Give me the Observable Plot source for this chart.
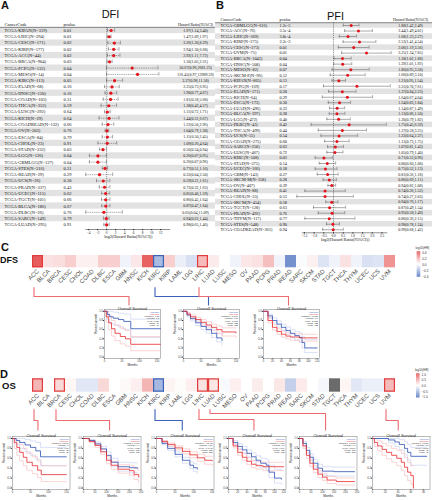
<!DOCTYPE html>
<html><head><meta charset="utf-8">
<script src="https://cdn.jsdelivr.net/npm/d3@7"></script>
<script src="https://cdn.jsdelivr.net/npm/@observablehq/plot@0.6"></script>
<style>
body{margin:0;background:#fff;}
#root{position:relative;width:432px;height:500px;overflow:hidden;font-family:"Liberation Sans",Arial,sans-serif;}
</style></head><body><div id="root"></div>
<script>
// ---------------- DATA ----------------
const dfiCodes = ["TCGA-KIPAN(N=319)","TCGA-LIHC(N=294)","TCGA-CESC(N=171)","TCGA-KIRP(N=177)","TCGA-ACC(N=44)","TCGA-BRCA(N=904)","TCGA-PCPG(N=132)","TCGA-MESO(N=14)","TCGA-KIRC(N=113)","TCGA-PAAD(N=68)","TCGA-HNSC(N=120)","TCGA-COAD(N=103)","TCGA-THCA(N=352)","TCGA-LUSC(N=292)","TCGA-KICH(N=29)","TCGA-COADREAD(N=132)","TCGA-OV(N=203)","TCGA-ESCA(N=84)","TCGA-CHOL(N=23)","TCGA-STAD(N=232)","TCGA-LGG(N=126)","TCGA-GBMLGG(N=127)","TCGA-STES(N=316)","TCGA-READ(N=29)","TCGA-UCS(N=26)","TCGA-PRAD(N=337)","TCGA-UCEC(N=115)","TCGA-TGCT(N=101)","TCGA-BLCA(N=186)","TCGA-DLBC(N=26)","TCGA-SARC(N=149)","TCGA-LUAD(N=295)"];
const dfiP = ["0.01","0.01","0.02","0.02","0.02","0.03","0.04","0.04","0.05","0.16","0.16","0.31","0.59","0.64","0.64","0.66","0.76","0.79","0.91","0.03","0.04","0.04","0.21","0.29","0.30","0.43","0.62","0.66","0.67","0.76","0.79","0.91"];
const dfiHR = [1.97,1.47,3.26,2.94,2.92,1.56,50.67,116.45,3.37,2.25,1.90,1.81,1.38,1.11,1.44,1.22,1.04,1.11,1.09,0.56,0.26,0.26,0.77,0.33,0.59,0.72,0.85,0.86,0.87,0.65,0.94,0.98];
const dfiLo = [1.14,1.09,1.20,1.30,1.11,1.05,0.96,0.97,0.98,0.73,0.77,0.58,0.42,0.72,0.31,0.50,0.79,0.50,0.26,0.34,0.07,0.07,0.51,0.04,0.21,0.32,0.46,0.45,0.47,0.04,0.62,0.65];
const dfiHi = [3.40,1.97,8.29,6.68,7.72,2.31,2681.23,13989.59,11.58,6.95,4.67,5.68,4.57,1.71,6.67,2.96,1.38,2.45,4.64,0.94,0.95,0.96,1.16,2.50,1.61,1.63,1.59,1.64,1.64,11.09,1.44,1.46];

const pfiCodes = ["TCGA-GBMLGG(N=616)","TCGA-ACC(N=76)","TCGA-LIHC(N=369)","TCGA-KIRP(N=275)","TCGA-CESC(N=273)","TCGA-UVM(N=75)","TCGA-BRCA(N=1043)","TCGA-HNSC(N=508)","TCGA-MESO(N=82)","TCGA-SKCM-P(N=96)","TCGA-KIPAN(N=865)","TCGA-PCPG(N=169)","TCGA-PAAD(N=171)","TCGA-KICH(N=64)","TCGA-ESCA(N=173)","TCGA-LUAD(N=496)","TCGA-BLCA(N=397)","TCGA-LGG(N=472)","TCGA-DLBC(N=43)","TCGA-THCA(N=499)","TCGA-UCS(N=55)","TCGA-COAD(N=275)","TCGA-SARC(N=250)","TCGA-LUSC(N=467)","TCGA-KIRC(N=508)","TCGA-STAD(N=375)","TCGA-UCEC(N=166)","TCGA-GBM(N=143)","TCGA-SKCM-M(N=358)","TCGA-OV(N=407)","TCGA-READ(N=88)","TCGA-CHOL(N=33)","TCGA-SKCM(N=454)","TCGA-TGCT(N=128)","TCGA-PRAD(N=492)","TCGA-THYM(N=117)","TCGA-STES(N=548)","TCGA-COADREAD(N=363)"];
const pfiP = ["1.2e-5","3.5e-4","3.8e-4","2.2e-3","0.01","0.01","0.04","0.04","0.07","0.12","0.13","0.17","0.20","0.29","0.30","0.33","0.38","0.40","0.42","0.44","0.54","0.60","0.63","0.72","0.03","0.14","0.18","0.27","0.28","0.39","0.41","0.53","0.58","0.63","0.76","0.77","0.90","0.94"];
const pfiHR = [1.88,2.44,1.68,2.53,2.06,3.25,1.38,1.39,1.86,1.66,1.21,2.31,1.37,1.64,1.24,1.14,1.13,1.20,1.75,1.37,1.22,1.13,1.07,1.05,0.71,0.80,0.75,0.81,0.86,0.94,0.74,0.74,0.94,0.87,0.95,0.86,0.98,0.99];
const pfiLo = [1.42,1.49,1.23,1.41,1.19,1.34,1.02,1.01,0.95,0.89,0.95,0.70,0.84,0.67,0.83,0.87,0.86,0.79,0.45,0.58,0.64,0.73,0.81,0.79,0.52,0.60,0.52,0.56,0.69,0.82,0.36,0.27,0.76,0.49,0.58,0.36,0.78,0.68];
const pfiHi = [2.49,4.01,2.27,4.54,3.56,7.85,1.88,1.92,3.58,3.10,1.54,7.61,2.23,4.04,1.84,1.49,1.50,1.82,6.59,3.25,2.37,1.75,1.43,1.40,0.96,1.08,1.13,1.18,1.11,1.08,1.52,2.03,1.17,1.54,1.49,2.15,1.24,1.42];

const cancers = ["ACC","BLCA","BRCA","CESC","CHOL","COAD","DLBC","ESCA","GBM","HNSC","KICH","KIRC","KIRP","LAML","LGG","LIHC","LUAD","LUSC","MESO","OV","PAAD","PCPG","PRAD","READ","SARC","SKCM","STAD","TGCT","THCA","THYM","UCEC","UCS","UVM"];
const dfsLogHR = [0.33,0.06,0.07,0.10,0.03,0.03,0.10,0.10,-0.03,0.05,0.32,-0.17,0.10,-0.04,-0.08,0.14,0.04,0.00,-0.03,0.05,0.06,0.13,-0.03,-0.28,-0.01,0.03,-0.07,-0.03,0.06,-0.03,-0.08,-0.07,0.22];
const osLogHR = [0.38,0.01,0.2,0.05,-0.15,-0.15,0.2,0.0,0.03,0.08,0.38,-0.45,0.06,0.02,0.08,0.15,0.12,-0.04,0.08,0.0,0.09,0.0,0.12,-0.3,0.11,0.0,-0.05,null,0.05,-0.15,-0.1,-0.1,0.35];
const dfsUp = ["ACC","LIHC"], dfsDown = ["KIRC"];
const osUp = ["ACC","BRCA","LIHC","LUAD","UVM"], osDown = ["KIRC"];
const dfsLegendTicks = [-0.4,-0.2,0,0.2,0.4];
const osLegendTicks = [-1,-0.5,0,0.5,1];

// Kaplan-Meier curves (months t, survival s, CI lo/hi)
const kmDFS = [
 {cancer:"ACC", xDomain:[0,160], xTicks:[0,50,100,150], stats:["Logrank p=0.02","HR(high)=3.3","p(HR)=0.026","n(high)=37","n(low)=37"],
  low:{t:[0,8,15,25,40,55,75,160], s:[1,0.93,0.88,0.85,0.82,0.78,0.62,0.62], lo:[1,0.82,0.74,0.70,0.66,0.60,0.43,0.43], hi:[1,1,1,0.98,0.96,0.94,0.83,0.83]},
  high:{t:[0,5,12,20,30,45,60,75,160], s:[1,0.88,0.75,0.62,0.52,0.45,0.40,0.28,0.28], lo:[1,0.76,0.60,0.46,0.36,0.29,0.24,0.14,0.14], hi:[1,1,0.90,0.80,0.70,0.63,0.58,0.45,0.45]}},
 {cancer:"KIRC", xDomain:[0,160], xTicks:[0,50,100,150], stats:["Logrank p=0.0034","HR(high)=0.65","p(HR)=0.0037","n(high)=258","n(low)=258"],
  low:{t:[0,10,20,35,50,65,80,95,110], s:[1,0.92,0.84,0.75,0.67,0.60,0.52,0.42,0.36], lo:[1,0.88,0.79,0.69,0.60,0.52,0.43,0.33,0.26], hi:[1,0.96,0.89,0.81,0.74,0.68,0.61,0.52,0.47]},
  high:{t:[0,10,20,35,50,65,80,95,110,150], s:[1,0.94,0.88,0.82,0.76,0.70,0.65,0.60,0.55,0.53], lo:[1,0.91,0.84,0.77,0.70,0.64,0.58,0.52,0.46,0.43], hi:[1,0.97,0.92,0.87,0.82,0.77,0.72,0.68,0.64,0.63]}},
 {cancer:"LIHC", xDomain:[0,125], xTicks:[0,20,40,60,80,100,120], stats:["Logrank p=0.0021","HR(high)=1.6","p(HR)=0.0023","n(high)=182","n(low)=182"],
  low:{t:[0,10,20,30,40,50,60,70,80,86,92,120], s:[1,0.90,0.80,0.72,0.65,0.58,0.52,0.47,0.43,0.32,0.20,0.20], lo:[1,0.86,0.75,0.66,0.58,0.50,0.43,0.37,0.32,0.20,0.10,0.10], hi:[1,0.94,0.86,0.79,0.72,0.66,0.60,0.56,0.53,0.44,0.38,0.38]},
  high:{t:[0,10,20,30,40,50,60,80,120], s:[1,0.80,0.65,0.56,0.50,0.46,0.44,0.42,0.42], lo:[1,0.75,0.59,0.50,0.44,0.40,0.37,0.35,0.35], hi:[1,0.85,0.71,0.62,0.57,0.53,0.51,0.50,0.50]}}
];
const kmOS = [
 {cancer:"ACC", xDomain:[0,160], xTicks:[0,50,100,150], stats:["Logrank p=0.0071","HR(high)=3","p(HR)=0.01","n(high)=38","n(low)=38"],
  low:{t:[0,10,20,35,50,65,78,150], s:[1,0.96,0.92,0.87,0.82,0.75,0.63,0.63], lo:[1,0.88,0.80,0.73,0.66,0.58,0.45,0.45], hi:[1,1,1,0.98,0.95,0.92,0.82,0.82]},
  high:{t:[0,5,12,20,30,40,55,70,80,150], s:[1,0.92,0.82,0.72,0.62,0.52,0.45,0.36,0.27,0.27], lo:[1,0.80,0.66,0.55,0.45,0.36,0.29,0.21,0.13,0.13], hi:[1,1,0.95,0.88,0.80,0.70,0.63,0.54,0.45,0.45]}},
 {cancer:"BRCA", xDomain:[0,250], xTicks:[0,50,100,150,200,250], stats:["Logrank p=0.034","HR(high)=1.4","p(HR)=0.035","n(high)=535","n(low)=535"],
  low:{t:[0,25,50,75,100,120,150,200,235], s:[1,0.96,0.89,0.79,0.66,0.52,0.43,0.41,0.40], lo:[1,0.94,0.86,0.74,0.59,0.44,0.34,0.31,0.29], hi:[1,0.98,0.93,0.84,0.73,0.60,0.52,0.51,0.51]},
  high:{t:[0,25,50,75,100,120,150,200,220,240], s:[1,0.94,0.86,0.73,0.56,0.46,0.38,0.35,0.27,0.22], lo:[1,0.92,0.82,0.68,0.49,0.38,0.30,0.26,0.17,0.11], hi:[1,0.96,0.90,0.78,0.63,0.54,0.47,0.45,0.39,0.35]}},
 {cancer:"KIRC", xDomain:[0,155], xTicks:[0,50,100,150], stats:["Logrank p=4.8e-05","HR(high)=0.54","p(HR)=6.4e-05","n(high)=258","n(low)=258"],
  low:{t:[0,15,30,50,70,90,100,110], s:[1,0.90,0.80,0.68,0.56,0.46,0.41,0.38], lo:[1,0.87,0.76,0.63,0.50,0.39,0.33,0.30], hi:[1,0.93,0.84,0.73,0.62,0.53,0.49,0.47]},
  high:{t:[0,15,30,50,70,90,110,130,150], s:[1,0.94,0.88,0.81,0.74,0.67,0.61,0.56,0.55], lo:[1,0.92,0.85,0.77,0.69,0.61,0.54,0.48,0.46], hi:[1,0.96,0.91,0.85,0.79,0.73,0.68,0.64,0.63]}},
 {cancer:"LIHC", xDomain:[0,125], xTicks:[0,20,40,60,80,100,120], stats:["Logrank p=0.013","HR(high)=1.5","p(HR)=0.014","n(high)=182","n(low)=182"],
  low:{t:[0,10,20,30,40,50,60,70,82,88,100,115], s:[1,0.92,0.84,0.77,0.70,0.63,0.56,0.50,0.46,0.32,0.20,0.18], lo:[1,0.88,0.79,0.71,0.63,0.55,0.47,0.41,0.36,0.21,0.10,0.08], hi:[1,0.96,0.90,0.84,0.77,0.71,0.65,0.60,0.57,0.46,0.38,0.36]},
  high:{t:[0,10,20,30,40,50,60,75,120], s:[1,0.85,0.72,0.62,0.54,0.48,0.45,0.43,0.43], lo:[1,0.81,0.66,0.56,0.47,0.41,0.38,0.35,0.35], hi:[1,0.89,0.78,0.69,0.61,0.56,0.53,0.52,0.52]}},
 {cancer:"LUAD", xDomain:[0,250], xTicks:[0,50,100,150,200,250], stats:["Logrank p=0.0013","HR(high)=1.6","p(HR)=0.0014","n(high)=239","n(low)=239"],
  low:{t:[0,15,30,45,60,80,100,150,240], s:[1,0.90,0.76,0.62,0.50,0.40,0.34,0.33,0.33], lo:[1,0.86,0.70,0.55,0.42,0.32,0.25,0.24,0.24], hi:[1,0.94,0.82,0.69,0.58,0.48,0.43,0.42,0.42]},
  high:{t:[0,15,30,45,60,80,100,120,160,240], s:[1,0.85,0.66,0.50,0.38,0.28,0.22,0.16,0.13,0.13], lo:[1,0.80,0.60,0.43,0.31,0.21,0.15,0.09,0.06,0.06], hi:[1,0.90,0.72,0.57,0.45,0.35,0.29,0.23,0.20,0.20]}},
 {cancer:"UVM", xDomain:[0,90], xTicks:[0,20,40,60,80], stats:["Logrank p=0.0061","HR(high)=3.5","p(HR)=0.0099","n(high)=39","n(low)=39"],
  low:{t:[0,25,35,42,50,55,60,85], s:[1,0.97,0.93,0.88,0.80,0.72,0.64,0.64], lo:[1,0.91,0.84,0.77,0.67,0.57,0.46,0.46], hi:[1,1,1,0.98,0.93,0.88,0.82,0.82]},
  high:{t:[0,3,8,15,22,30,38,45,50,55,60,64], s:[1,0.92,0.85,0.78,0.72,0.66,0.60,0.52,0.42,0.32,0.25,0.0], lo:[1,0.84,0.75,0.66,0.59,0.52,0.45,0.36,0.25,0.15,0.08,0.0], hi:[1,1,0.95,0.90,0.85,0.80,0.76,0.70,0.62,0.52,0.45,0.45]}}
];

// ---------------- STYLE / LAYOUT ----------------
const RED = "#e23b3b", BLUE = "#3a62b8";
const heatRange = [BLUE, "#ffffff", RED];
const root = document.getElementById("root");
function place(el, left, top){ el.style.position="absolute"; el.style.left=left+"px"; el.style.top=top+"px"; root.appendChild(el); return el; }
function label(text, left, top, size, weight, extra){
  const d=document.createElement("div"); d.textContent=text;
  d.style.cssText=`position:absolute;left:${left}px;top:${top}px;font:${weight} ${size}px/${size}px 'Liberation Sans',Arial,sans-serif;color:#111;white-space:nowrap;${extra||""}`;
  root.appendChild(d);
}

function forest(o){
  const rows=o.codes.map((c,i)=>({i,code:c,p:o.p[i],lx:Math.log2(o.hr[i]),llo:Math.log2(o.lo[i]),lhi:Math.min(Math.log2(o.hi[i]),o.clipMax),
    txt:`${o.hr[i].toFixed(2)}(${o.lo[i].toFixed(2)},${o.hi[i].toFixed(2)})`}));
  const yTop=-o.row0/o.step, yBot=(o.axisY-o.row0)/o.step;
  const xDom=[-o.xZero/o.ppu,(o.width-o.xZero)/o.ppu];
  const T=(data,opt)=>Plot.text(data,{fontSize:o.fs,fill:"#111",...opt});
  return Plot.plot({
    width:o.width,height:o.height,marginLeft:0,marginRight:0,marginTop:0,marginBottom:o.height-o.axisY,
    style:{fontFamily:"'Liberation Serif',serif",fontSize:"3.4px",background:"none",color:"#111"},
    x:{domain:xDom,ticks:o.ticks,tickFormat:o.fmt,tickSize:1.2,tickPadding:0.5,label:null},
    y:{domain:[yBot,yTop],axis:null},
    marks:[
      Plot.rect(rows.filter(d=>d.i%2===0),{x1:xDom[0],x2:xDom[1],y1:d=>d.i-0.5,y2:d=>d.i+0.5,fill:"#e2e2e2"}),
      Plot.ruleY([-0.5],{stroke:"#222",strokeWidth:0.5}),
      Plot.ruleX([0],{y1:-0.5,y2:yBot,stroke:"#333",strokeWidth:0.5,strokeDasharray:"1.2,0.9"}),
      Plot.ruleY([yBot],{x1:o.axisExtent[0],x2:o.axisExtent[1],stroke:"#222",strokeWidth:0.5}),
      Plot.ruleY(rows,{y:"i",x1:"llo",x2:"lhi",stroke:"#555",strokeWidth:0.5,strokeDasharray:o.dash}),
      Plot.ruleX(rows,{x:"llo",y1:d=>d.i-0.28,y2:d=>d.i+0.28,stroke:"#555",strokeWidth:0.5}),
      Plot.ruleX(rows,{x:"lhi",y1:d=>d.i-0.28,y2:d=>d.i+0.28,stroke:"#555",strokeWidth:0.5}),
      Plot.dot(rows,{x:"lx",y:"i",r:o.r,fill:"#e5131b",stroke:"none"}),
      T(rows,{y:"i",text:"code",frameAnchor:"left",dx:o.colCode,textAnchor:"start"}),
      T(rows,{y:"i",text:"p",frameAnchor:"left",dx:o.colP,textAnchor:"start"}),
      T(rows,{y:"i",text:"txt",frameAnchor:"right",dx:-o.colHR,textAnchor:"middle",fontSize:o.fsHR}),
      T(["CancerCode"],{y:-1,frameAnchor:"left",dx:o.colCode,textAnchor:"start"}),
      T(["pvalue"],{y:-1,frameAnchor:"left",dx:o.colP,textAnchor:"start"}),
      T(["Hazard Ratio(95%CI)"],{y:-1,frameAnchor:"right",dx:-o.colHR,textAnchor:"middle",fontSize:o.fsHR}),
      Plot.text(["log2(Hazard Ratio(95%CI))"],{x:(o.axisExtent[0]+o.axisExtent[1])/2,frameAnchor:"bottom",dy:o.labelDy,fontSize:4.3,fill:"#111"})
    ]
  });
}

function heatmap(o){
  const cells=cancers.map((c,i)=>({c,v:o.values[i]}));
  return Plot.plot({
    width:432,height:o.height,marginLeft:19,marginRight:24,marginTop:o.mt,marginBottom:o.height-o.mt-o.ch,
    style:{fontFamily:"'Liberation Sans',Arial,sans-serif",fontSize:"6px",background:"none",color:"#4a4a4a"},
    x:{domain:cancers,padding:0,tickRotate:-45,tickSize:0,tickPadding:2.5,label:null},
    color:{type:"linear",domain:o.domain,range:heatRange,clamp:true},
    marks:[
      Plot.cell(cells.filter(d=>d.v!=null),{x:"c",fill:"v",inset:0}),
      Plot.cell(cells.filter(d=>d.v==null),{x:"c",fill:"#6b6b6b",inset:0}),
      Plot.cell(o.up,{x:d=>d,fill:"none",stroke:RED,strokeWidth:1.2,inset:0.6}),
      Plot.cell(o.down,{x:d=>d,fill:"none",stroke:BLUE,strokeWidth:1.2,inset:0.6})
    ]
  });
}

function legendBar(o){
  const a=o.domain[0], b=o.domain[2], pad=(b-a)*0.03, N=60;
  const steps=d3.range(N).map(k=>({y1:a-pad+(b-a+2*pad)*k/N,y2:a-pad+(b-a+2*pad)*(k+1)/N}));
  return Plot.plot({
    width:o.width,height:o.height,marginLeft:o.ml,marginRight:o.width-o.ml-3.5,marginTop:o.mt,marginBottom:o.mb,
    style:{fontFamily:"'Liberation Sans',Arial,sans-serif",fontSize:"3.2px",background:"none",color:"#333"},
    x:{domain:[0,1],axis:null},
    y:{domain:[a,b],ticks:o.ticks,tickFormat:".1f",tickSize:0,tickPadding:1.5,axis:"right",label:null},
    color:{type:"linear",domain:o.domain,range:heatRange,clamp:true},
    marks:[
      Plot.rect(steps,{x1:0,x2:1,y1:"y1",y2:"y2",fill:d=>(d.y1+d.y2)/2}),
      Plot.text(["log10(HR)"],{frameAnchor:"top",dy:-5.2,dx:3.5,fontSize:3,fill:"#333"})
    ]
  });
}

function km(c,g){
  const rows=[];
  for (const k of ["low","high"]) c[k].t.forEach((t,j)=>rows.push({g:k,t,s:c[k].s[j],lo:c[k].lo[j],hi:c[k].hi[j]}));
  const col={low:"#2e52b8",high:"#e8292d"}, light={low:"#b7c3ef",high:"#f6abab"};
  const marks=[Plot.frame({stroke:"#8c8c8c",strokeWidth:0.6})];
  for (const k of ["low","high"]) {
    const d=rows.filter(r=>r.g===k);
    marks.push(Plot.line(d,{x:"t",y:"hi",curve:"step-after",stroke:light[k],strokeWidth:0.5}));
    marks.push(Plot.line(d,{x:"t",y:"lo",curve:"step-after",stroke:light[k],strokeWidth:0.5}));
  }
  for (const k of ["low","high"]) marks.push(Plot.line(rows.filter(r=>r.g===k),{x:"t",y:"s",curve:"step-after",stroke:col[k],strokeWidth:0.8}));
  marks.push(
    Plot.text(["Overall Survival"],{frameAnchor:"top",dy:-2.6,fontSize:4.2,fill:"#222"}),
    Plot.text(["Percent survival"],{frameAnchor:"left",rotate:-90,dx:-8.3,fontSize:2.8,fill:"#222"}),
    Plot.text(["Months"],{frameAnchor:"bottom",dy:7.2,fontSize:3,fill:"#222"}),
    Plot.text(["Low TPM"],{frameAnchor:"top-right",textAnchor:"end",dx:-1.5,dy:2,fontSize:2.1,fill:col.low}),
    Plot.text(["High TPM"],{frameAnchor:"top-right",textAnchor:"end",dx:-1.5,dy:4.4,fontSize:2.1,fill:col.high}),
    Plot.text([c.stats.join("\n")],{frameAnchor:"top-right",textAnchor:"end",lineAnchor:"top",dx:-1.5,dy:5.6,lineHeight:1.15,fontSize:2.1,fill:"#222"})
  );
  return Plot.plot({
    width:g.ml+g.W+3,height:g.mt+g.H+g.mb,marginLeft:g.ml,marginRight:3,marginTop:g.mt,marginBottom:g.mb,
    style:{fontFamily:"'Liberation Sans',Arial,sans-serif",fontSize:"2.6px",background:"none",color:"#333",overflow:"visible"},
    x:{domain:c.xDomain,ticks:c.xTicks,tickSize:1,tickPadding:0.6,label:null},
    y:{domain:[-0.03,1.04],ticks:[0,0.2,0.4,0.6,0.8,1],tickFormat:".1f",tickSize:1,tickPadding:0.6,label:null},
    marks
  });
}

// ---------------- BUILD ----------------
place(forest({codes:dfiCodes,p:dfiP,hr:dfiHR,lo:dfiLo,hi:dfiHi,width:215,height:241,row0:30,step:6.27,axisY:229,
  xZero:106.2,ppu:4.5,ticks:[-4,-2,0,2,4,6,8,10,12],fmt:d3.format("d"),axisExtent:[-4.6,14.2],clipMax:11.6,
  dash:"1.4,0.8",r:1.6,fs:4.5,fsHR:4,colCode:4,colP:63,colHR:20,labelDy:8}),0,0);
place(forest({codes:pfiCodes,p:pfiP,hr:pfiHR,lo:pfiLo,hi:pfiHi,width:217,height:245,row0:25,step:5.52,axisY:232.3,
  xZero:118,ppu:19.4,ticks:[-1.5,-1,-0.5,0,0.5,1,1.5,2,2.5],fmt:d3.format(".1f"),axisExtent:[-1.6,2.8],clipMax:99,
  dash:null,r:1.5,fs:4.3,fsHR:4,colCode:5,colP:64,colHR:22,labelDy:8.3}),215,0);

const hmC = place(heatmap({values:dfsLogHR,domain:[-0.4,0,0.4],up:dfsUp,down:dfsDown,height:42,mt:7,ch:12.3}),0,248);
const hmD = place(heatmap({values:osLogHR,domain:[-1,0,1],up:osUp,down:osDown,height:41,mt:7.3,ch:13.4}),0,371);
place(legendBar({domain:[-0.4,0,0.4],ticks:dfsLegendTicks,width:27,height:38,ml:11.7,mt:8,mb:6}),405,244);
place(legendBar({domain:[-1,0,1],ticks:osLegendTicks,width:27,height:38,ml:11,mt:10,mb:5.3}),405,364);

const gC={W:56,H:49,ml:13,mt:9,mb:10}, topC=300, framesC=[103.5,183,263];
kmDFS.forEach((c,i)=>place(km(c,gC),framesC[i]-gC.ml,topC));
const gD={W:57.5,H:53,ml:11,mt:8,mb:11}, topD=428, framesD=[11.7,83.3,156,227.7,299.3,372];
kmOS.forEach((c,i)=>place(km(c,gD),framesD[i]-gD.ml,topD));

// connectors from heatmap labels to survival plots
const sxC=hmC.scale("x"), sxD=hmD.scale("x");
const cen=(s,c)=>s.apply(c)+s.bandwidth/2;
const links=[];
const hyC=[296,296,296];
kmDFS.forEach((c,i)=>{const x0=cen(sxC,c.cancer)-4, x1=framesC[i]+gC.W/2-3;
  const col=dfsDown.includes(c.cancer)?BLUE:"#ee6a6f";
  [[x0,287],[x0,hyC[i]],[x1,hyC[i]],[x1,304.5]].forEach(([x,y])=>links.push({id:"c"+i,x,y,col}));});
const hyD=[420,420,420,419,413,420];
kmOS.forEach((c,i)=>{const x0=cen(sxD,c.cancer)-4, x1=framesD[i]+gD.W/2-3;
  const col=osDown.includes(c.cancer)?BLUE:"#ee6a6f";
  [[x0,409],[x0,hyD[i]],[x1,hyD[i]],[x1,429.5]].forEach(([x,y])=>links.push({id:"d"+i,x,y,col}));});
place(Plot.plot({width:432,height:500,margin:0,x:{type:"identity",axis:null},y:{type:"identity",axis:null},color:{type:"identity"},
  style:{background:"none",pointerEvents:"none"},
  marks:[Plot.line(links,{x:"x",y:"y",z:"id",stroke:"col",strokeWidth:1.1})]}),0,0);

// panel letters & titles
label("A",1,0,11,"bold");
label("B",216,0,11,"bold");
label("C",1,241.5,11,"bold");
label("D",0,368.5,11,"bold");
label("DFI",110.5,8.5,11,"normal","transform:translateX(-50%)");
label("PFI",335.5,10.5,11,"normal","transform:translateX(-50%)");
label("DFS",0,255.8,9,"bold");
label("OS",2,380.7,9.5,"bold");
</script></body></html>
